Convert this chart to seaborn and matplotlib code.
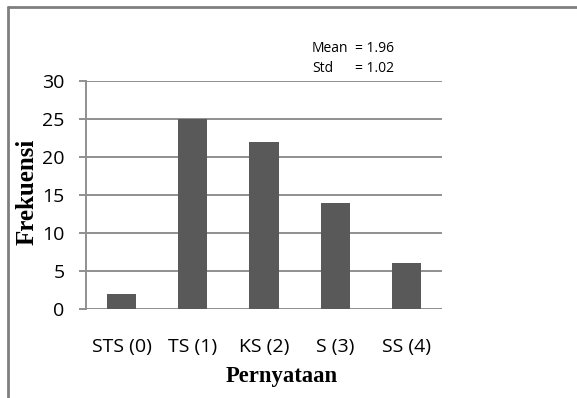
import numpy as np
import pandas as pd
import matplotlib
matplotlib.use("Agg")
import matplotlib.pyplot as plt
from matplotlib.lines import Line2D
import seaborn as sns

# Response categories and their frequencies
categories = ["STS (0)", "TS (1)", "KS (2)", "S (3)", "SS (4)"]
scores = [0, 1, 2, 3, 4]
frequencies = [2, 25, 22, 14, 6]
y_ticks = [0, 5, 10, 15, 20, 25, 30]

# Summary statistics of the scores weighted by frequency
samples = np.repeat(scores, frequencies)
mean_val = samples.mean()
std_val = samples.std(ddof=1)

df = pd.DataFrame({"Pernyataan": categories, "Frekuensi": frequencies})

sns.set_theme(style="white")
plt.rcParams["font.family"] = ["Open Sans", "DejaVu Sans"]

W, H = 577, 398
fig = plt.figure(figsize=(W / 100, H / 100), dpi=100)
ax = fig.add_axes([86 / W, 1 - 309 / H, 356 / W, 228 / H])

grid_col = "#8f8f8f"
text_col = "#000000"
sns.barplot(data=df, x="Pernyataan", y="Frekuensi", color="#595959",
            saturation=1, width=0.41, edgecolor="none", ax=ax, zorder=3)

ax.set_ylim(0, 30)
ax.set_xlim(-0.5, len(categories) - 0.5)
ax.set_yticks(y_ticks)
ax.set_yticklabels([str(t) for t in y_ticks])
ax.yaxis.grid(True, color=grid_col, linewidth=1.4, zorder=0)
ax.xaxis.grid(False)
ax.set_axisbelow(True)

for side in ["top", "right", "bottom"]:
    ax.spines[side].set_visible(False)
ax.spines["left"].set_color(grid_col)
ax.spines["left"].set_linewidth(1.4)
ax.spines["left"].set_zorder(4)

ax.tick_params(axis="y", which="major", length=5.3, width=1.4, color=grid_col,
               pad=10, labelsize=14, labelcolor=text_col, left=True)
ax.tick_params(axis="x", length=0, pad=21, labelsize=14, labelcolor=text_col)

ax.set_xlabel("")
ax.set_ylabel("")

serif = ["Liberation Serif", "DejaVu Serif"]
fig.text(282 / W, 1 - 382 / H, "Pernyataan", family=serif, weight="bold",
         fontsize=16.3, ha="center", va="baseline", color=text_col)
fig.text(34 / W, 1 - 192 / H, "Frekuensi", family=serif, weight="bold",
         fontsize=18, ha="center", va="baseline", rotation=90,
         rotation_mode="anchor", color=text_col)

# Statistics text
fig.text(312 / W, 1 - 48 / H, "Mean", fontsize=10, ha="left", va="center", color=text_col)
fig.text(355 / W, 1 - 48 / H, f"= {mean_val:.2f}", fontsize=10, ha="left", va="center", color=text_col)
fig.text(312 / W, 1 - 68 / H, "Std", fontsize=10, ha="left", va="center", color=text_col)
fig.text(355 / W, 1 - 68 / H, f"= {std_val:.2f}", fontsize=10, ha="left", va="center", color=text_col)

# Outer frame (top and left edges)
frame_col = "#7f7f7f"
fig.add_artist(Line2D([8 / W, 1.0], [1 - 7 / H, 1 - 7 / H], color=frame_col,
                      linewidth=2, transform=fig.transFigure))
fig.add_artist(Line2D([8 / W, 8 / W], [0.0, 1 - 7 / H], color=frame_col,
                      linewidth=2, transform=fig.transFigure))

fig.savefig("out.png", dpi=100)
